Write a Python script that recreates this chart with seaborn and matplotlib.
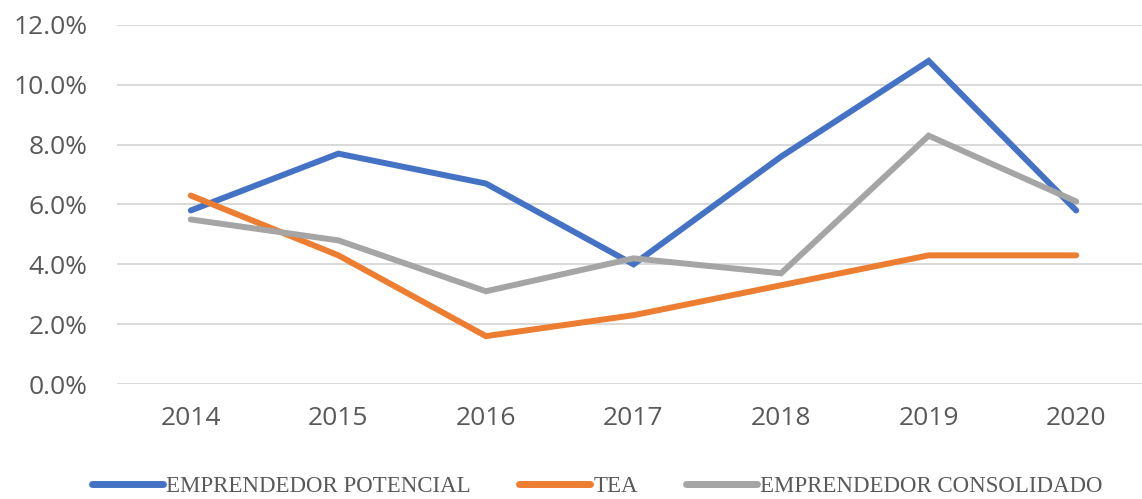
import numpy as np
import pandas as pd
import matplotlib
matplotlib.use("Agg")
import matplotlib.pyplot as plt
import seaborn as sns
from matplotlib.ticker import PercentFormatter

# Data (percent)
years = ["2014", "2015", "2016", "2017", "2018", "2019", "2020"]
potencial = [5.8, 7.7, 6.7, 4.0, 7.6, 10.8, 5.8]
tea = [6.3, 4.3, 1.6, 2.3, 3.3, 4.3, 4.3]
consolidado = [5.5, 4.8, 3.1, 4.2, 3.7, 8.3, 6.1]

series_names = ["EMPRENDEDOR POTENCIAL", "TEA", "EMPRENDEDOR CONSOLIDADO"]
colors = ["#4472C4", "#ED7D31", "#A5A5A5"]
y_ticks = [0, 2, 4, 6, 8, 10, 12]

df = pd.DataFrame({
    "year": years * 3,
    "value": potencial + tea + consolidado,
    "serie": np.repeat(series_names, len(years)),
})

sns.set_style("white")
plt.rcParams["font.family"] = ["Open Sans", "DejaVu Sans"]

fig = plt.figure(figsize=(11.42, 4.99), dpi=100)
ax = fig.add_axes([117 / 1142, 1 - 384 / 499, (1150 - 117) / 1142, 359 / 499])

sns.lineplot(data=df, x="year", y="value", hue="serie", hue_order=series_names,
             palette=colors, linewidth=4.3, sort=False, ax=ax, legend=False)
for ln in ax.get_lines():
    ln.set_solid_capstyle("round")
    ln.set_solid_joinstyle("miter")

ax.set_xlim(-0.5, 6.5)
ax.set_ylim(0, 12)
ax.set_yticks(y_ticks)
ax.yaxis.set_major_formatter(PercentFormatter(decimals=1))
ax.grid(axis="y", color="#D9D9D9", linewidth=1.4)
ax.set_axisbelow(True)
for s in ax.spines.values():
    s.set_visible(False)
ax.set_xlabel("")
ax.set_ylabel("")
ax.tick_params(axis="both", length=0, labelsize=19, labelcolor="#595959")
ax.tick_params(axis="x", pad=16)
ax.tick_params(axis="y", pad=21)

# legend below the plot
handles = [plt.Line2D([0], [0], color=c, linewidth=5, solid_capstyle="round") for c in colors]
fig.legend(handles, series_names, loc="center", bbox_to_anchor=(0.523, 0.025), ncol=3,
           frameon=False, handlelength=3.1, handletextpad=0.15, columnspacing=2.1,
           prop={"family": "Liberation Serif", "size": 16.5}, labelcolor="#595959")

fig.savefig("out.png", dpi=100)
